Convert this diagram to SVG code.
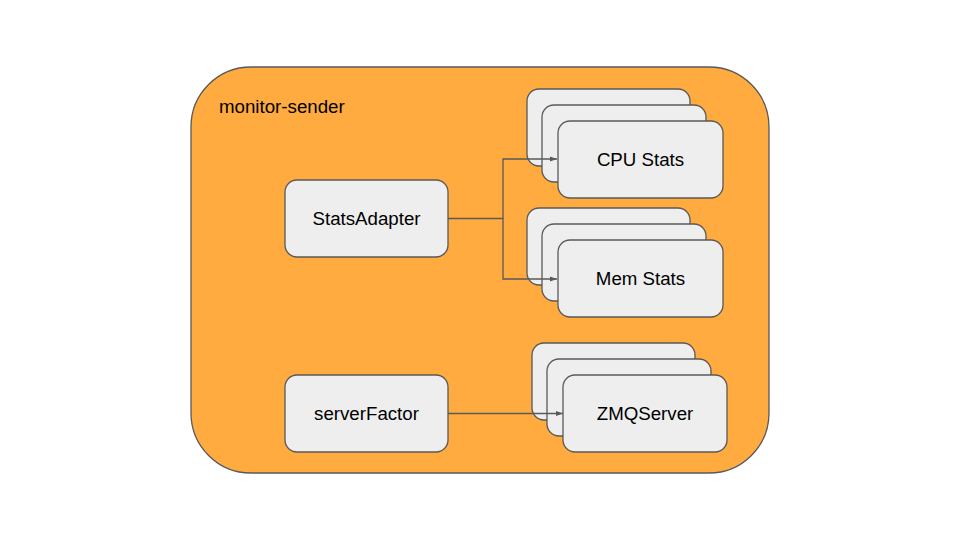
<svg xmlns="http://www.w3.org/2000/svg" width="960" height="540" viewBox="0 0 960 540">
<style>
.box{fill:#eeeeee;stroke:#595959;stroke-width:1.3}
.t{font-family:"Liberation Sans",Arial,sans-serif;font-size:18.7px;fill:#000;text-anchor:middle}
.c{fill:none;stroke:#595959;stroke-width:1.3}
</style>
<defs>
<marker id="ah" markerWidth="8" markerHeight="6" refX="7" refY="3" orient="auto" markerUnits="userSpaceOnUse">
<path d="M0,0.5 L7,3 L0,5.5 Z" fill="#595959"/>
</marker>
</defs>
<rect width="960" height="540" fill="#ffffff"/>
<g id="monitor-sender">
<rect x="191" y="67" width="578" height="406" rx="60" ry="60" fill="#ffab40" stroke="#595959" stroke-width="1.3"/>
<text x="219" y="113" font-family="Liberation Sans,Arial,sans-serif" font-size="18.7">monitor-sender</text>
</g>
<g id="statsadapter">
<rect class="box" x="285" y="180" width="163" height="77" rx="12"/>
<text class="t" x="366.5" y="225">StatsAdapter</text>
</g>
<g id="serverfactor">
<rect class="box" x="285" y="375" width="163" height="77" rx="12"/>
<text class="t" x="366.5" y="420">serverFactor</text>
</g>
<g id="cpu-stats">
<rect class="box" x="527" y="89" width="163" height="77" rx="12"/>
<rect class="box" x="542" y="105" width="164" height="77" rx="12"/>
<rect class="box" x="558" y="121" width="165" height="77" rx="12"/>
<text class="t" x="640.5" y="166">CPU Stats</text>
</g>
<g id="mem-stats">
<rect class="box" x="527" y="208" width="163" height="77" rx="12"/>
<rect class="box" x="542" y="224" width="164" height="77" rx="12"/>
<rect class="box" x="558" y="240" width="165" height="77" rx="12"/>
<text class="t" x="640.5" y="285">Mem Stats</text>
</g>
<g id="zmqserver">
<rect class="box" x="532" y="343" width="163" height="77" rx="12"/>
<rect class="box" x="547" y="359" width="164" height="77" rx="12"/>
<rect class="box" x="563" y="375" width="164" height="77" rx="12"/>
<text class="t" x="645" y="420">ZMQServer</text>
</g>
<g id="connectors">
<path class="c" d="M448,218.5 H503 V159 H557" marker-end="url(#ah)"/>
<path class="c" d="M503,218.5 V279 H557" marker-end="url(#ah)"/>
<path class="c" d="M448,413.5 H563" marker-end="url(#ah)"/>
</g>
</svg>
